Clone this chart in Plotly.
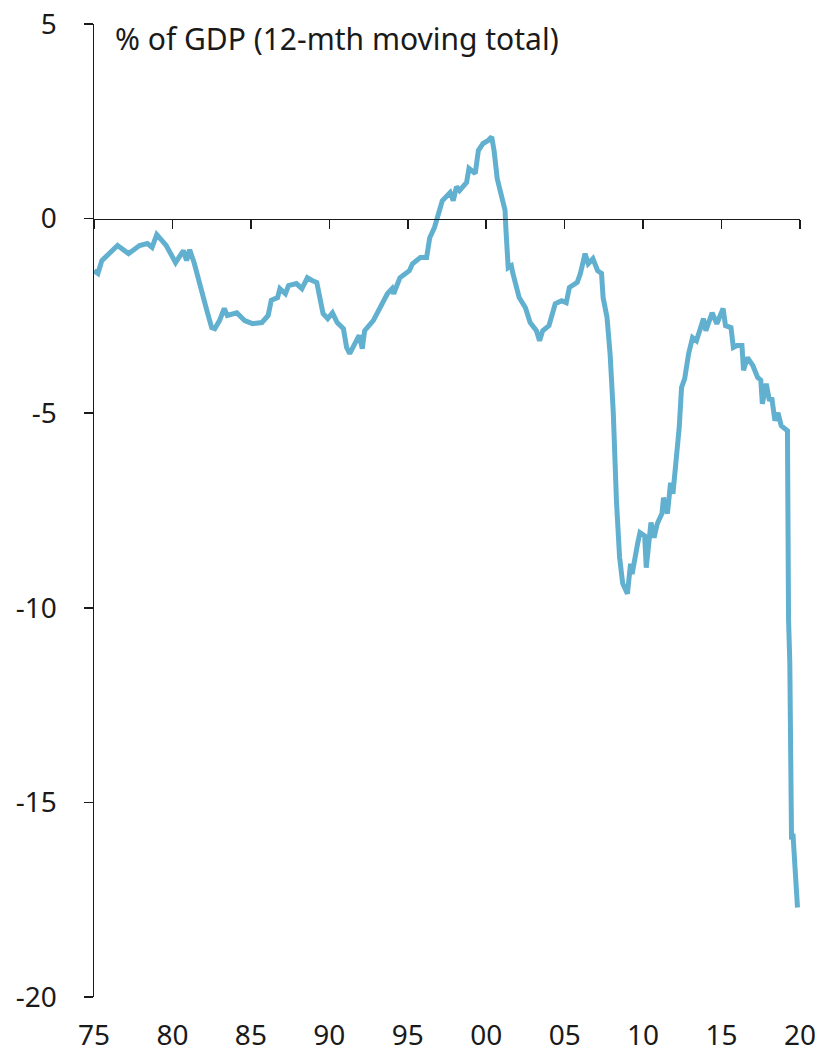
import plotly.graph_objects as go

# Budget balance, % of GDP (12-month moving total)
years = [
    1975.00, 1975.25, 1975.5, 1976.0, 1976.5, 1977.2, 1977.9, 1978.4, 1978.7, 1979.0,
    1979.3, 1979.6, 1980.2, 1980.7, 1980.9, 1981.1, 1981.4, 1981.9, 1982.2, 1982.5,
    1982.7, 1983.0, 1983.3, 1983.5, 1984.1, 1984.6, 1985.1, 1985.7, 1986.1, 1986.3,
    1986.7, 1986.85, 1987.2, 1987.4, 1987.9, 1988.25, 1988.6, 1988.9, 1989.2, 1989.6,
    1989.9, 1990.2, 1990.5, 1990.9, 1991.1, 1991.3, 1991.6, 1991.9, 1992.1, 1992.25,
    1992.8, 1993.2, 1993.7, 1994.0, 1994.1, 1994.5, 1995.1, 1995.3, 1995.8, 1996.2,
    1996.4, 1996.7, 1997.0, 1997.2, 1997.7, 1997.9, 1998.1, 1998.3, 1998.75, 1998.9,
    1999.3, 1999.5, 1999.8, 2000.1, 2000.35, 2000.5, 2000.7, 2000.9, 2001.2, 2001.25,
    2001.4, 2001.6, 2001.7, 2002.1, 2002.5, 2002.8, 2003.2, 2003.4, 2003.6, 2004.0,
    2004.4, 2004.8, 2005.1, 2005.3, 2005.8, 2006.0, 2006.3, 2006.5, 2006.8, 2007.1,
    2007.35, 2007.45, 2007.7, 2007.9, 2008.1, 2008.3, 2008.5, 2008.7, 2009.0, 2009.2,
    2009.3, 2009.65, 2009.8, 2010.1, 2010.2, 2010.5, 2010.7, 2010.9, 2011.2, 2011.3,
    2011.55, 2011.75, 2011.9, 2012.1, 2012.3, 2012.45, 2012.65, 2012.9, 2013.15, 2013.4,
    2013.85, 2014.0, 2014.4, 2014.7, 2015.1, 2015.25, 2015.6, 2015.75, 2016.0, 2016.3,
    2016.4, 2016.65, 2017.0, 2017.3, 2017.5, 2017.6, 2017.85, 2018.05, 2018.2, 2018.4,
    2018.6, 2018.8, 2019.0, 2019.2, 2019.27, 2019.35, 2019.46, 2019.55, 2019.84,
]
balance = [
    -1.34, -1.41, -1.08, -0.90, -0.69, -0.90, -0.69, -0.64, -0.74, -0.41,
    -0.55, -0.69, -1.13, -0.82, -1.08, -0.80, -1.16, -1.85, -2.37, -2.80,
    -2.83, -2.62, -2.31, -2.49, -2.42, -2.62, -2.70, -2.67, -2.49, -2.10,
    -2.03, -1.80, -1.93, -1.72, -1.67, -1.80, -1.52, -1.59, -1.64, -2.44,
    -2.57, -2.42, -2.67, -2.83, -3.31, -3.47, -3.21, -3.00, -3.34, -2.88,
    -2.62, -2.30, -1.93, -1.80, -1.93, -1.52, -1.34, -1.16, -1.00, -1.00,
    -0.49, -0.23, 0.13, 0.46, 0.67, 0.46, 0.82, 0.72, 0.93, 1.29,
    1.16, 1.75, 1.93, 2.00, 2.10, 1.75, 1.03, 0.72, 0.21, -0.23,
    -1.26, -1.21, -1.41, -2.03, -2.29, -2.67, -2.88, -3.14, -2.88, -2.75,
    -2.19, -2.11, -2.16, -1.77, -1.64, -1.41, -0.90, -1.16, -1.03, -1.34,
    -1.41, -2.03, -2.54, -3.50, -5.00, -7.25, -8.70, -9.38, -9.64, -8.87,
    -9.13, -8.35, -8.07, -8.15, -8.97, -7.81, -8.20, -7.84, -7.58, -7.17,
    -7.58, -6.79, -7.07, -6.22, -5.37, -4.34, -4.11, -3.47, -3.06, -3.14,
    -2.57, -2.88, -2.42, -2.70, -2.31, -2.75, -2.80, -3.31, -3.26, -3.26,
    -3.90, -3.57, -3.78, -4.08, -4.15, -4.76, -4.24, -4.68, -4.60, -5.19,
    -4.99, -5.32, -5.40, -5.45, -10.30, -11.40, -15.95, -15.80, -17.70,
]

x_tick_vals = [1975, 1980, 1985, 1990, 1995, 2000, 2005, 2010, 2015, 2020]
x_tick_text = ["75", "80", "85", "90", "95", "00", "05", "10", "15", "20"]
y_tick_vals = [-20, -15, -10, -5, 0, 5]
y_tick_text = ["-20", "-15", "-10", "-5", "0", "5"]
title_text = "% of GDP (12-mth moving total)"

FONT = "Noto Sans"
LINE_COLOR = "#62B0CF"
AXIS_COLOR = "#1a1a1a"

fig = go.Figure()
fig.add_trace(go.Scatter(
    x=years, y=balance, mode="lines",
    line=dict(color=LINE_COLOR, width=5),
    showlegend=False, hoverinfo="skip",
))
# invisible trace to activate the zero-line axis
fig.add_trace(go.Scatter(x=[1975, 2020], y=[0, 0], xaxis="x2", mode="lines",
                         line=dict(width=0), showlegend=False, hoverinfo="skip"))

fig.update_layout(
    width=819, height=1053,
    margin=dict(l=94, r=19, t=24, b=56, pad=0),
    paper_bgcolor="white", plot_bgcolor="white",
    font=dict(family=FONT, size=28, color=AXIS_COLOR),
    hovermode=False,
    xaxis=dict(
        range=[1975, 2020], tickvals=x_tick_vals, ticktext=x_tick_text,
        showgrid=False, zeroline=False, showline=False, ticks="",
        ticklabelstandoff=19, tickfont=dict(size=28), automargin=False,
        ticklabeloverflow="allow",
    ),
    xaxis2=dict(
        range=[1975, 2020], overlaying="x", anchor="free", position=0.8,
        side="bottom", tickvals=x_tick_vals, showticklabels=False,
        showgrid=False, zeroline=False, showline=True, linecolor=AXIS_COLOR,
        linewidth=1.5, ticks="outside", ticklen=9, tickwidth=1.5, tickcolor=AXIS_COLOR,
        automargin=False,
    ),
    yaxis=dict(
        range=[-20, 5], tickvals=y_tick_vals, ticktext=y_tick_text,
        showgrid=False, zeroline=False, showline=True, linecolor=AXIS_COLOR,
        linewidth=1.5, ticks="outside", ticklen=9, tickwidth=1.5, tickcolor=AXIS_COLOR,
        ticklabelstandoff=21, tickfont=dict(size=28), automargin=False,
        ticklabeloverflow="allow",
    ),
    annotations=[dict(
        text=title_text, xref="paper", yref="paper", x=0.027, y=0.9856,
        xanchor="left", yanchor="middle", showarrow=False,
        font=dict(family=FONT, size=30, color=AXIS_COLOR),
    )],
)

# remove the default 8px page margin so the figure fills the window exactly
fig.write_html(
    "out.html",
    config={"displayModeBar": False, "staticPlot": True},
    post_script="document.body.style.margin='0';document.body.style.overflow='hidden';",
)
